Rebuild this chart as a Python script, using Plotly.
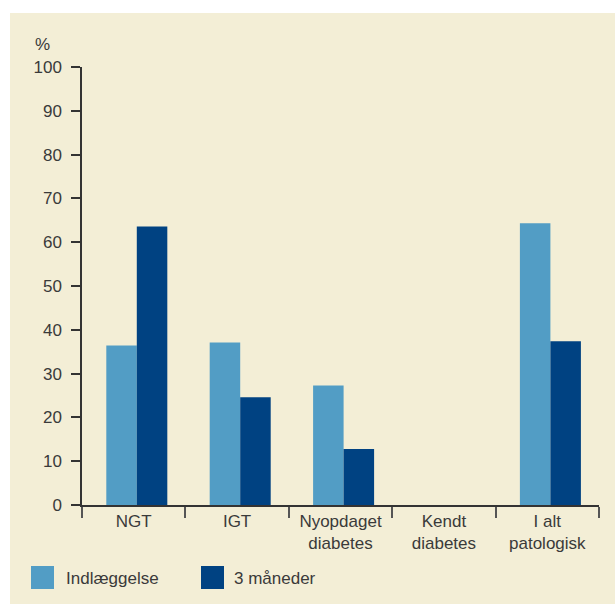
import plotly.graph_objects as go

categories = ["NGT", "IGT", "Nyopdaget<br>diabetes", "Kendt<br>diabetes", "I alt<br>patologisk"]
indlaeggelse = [36.4, 37.1, 27.3, 0, 64.3]
tre_maaneder = [63.6, 24.6, 12.8, 0, 37.4]
series_names = ["Indlæggelse", "3 måneder"]
y_ticks = list(range(0, 101, 10))

LIGHT = "#529dc5"
DARK = "#004282"
BG = "#f3eed6"
TXT = "#3a3a3a"
FONT = "Liberation Sans"

W, H = 615, 604
L, R, T, B = 82, 16, 67, 99
pw, ph = W - L - R, H - T - B

def px_x(p):
    return (p - L) / pw

def px_y(p):
    return (H - B - p) / ph

BW = 0.295
SHIFT = 0.03

fig = go.Figure()
fig.add_trace(go.Bar(x=categories, y=indlaeggelse, name=series_names[0],
                     width=BW, offset=-BW + SHIFT,
                     marker=dict(color=LIGHT, line=dict(width=0))))
fig.add_trace(go.Bar(x=categories, y=tre_maaneder, name=series_names[1],
                     width=BW, offset=SHIFT,
                     marker=dict(color=DARK, line=dict(width=0))))

shapes = [
    dict(type="rect", xref="paper", yref="paper", layer="below",
         x0=px_x(10), x1=px_x(W + 5), y0=px_y(13), y1=px_y(H + 5),
         fillcolor=BG, line=dict(width=0)),
    dict(type="rect", xref="paper", yref="paper",
         x0=px_x(31), x1=px_x(54), y0=px_y(566), y1=px_y(589),
         fillcolor=LIGHT, line=dict(width=0)),
    dict(type="rect", xref="paper", yref="paper",
         x0=px_x(201), x1=px_x(224), y0=px_y(566), y1=px_y(589),
         fillcolor=DARK, line=dict(width=0)),
]
annotations = [
    dict(text="%", xref="paper", yref="paper", x=px_x(33), y=px_y(44),
         xanchor="left", yanchor="middle", showarrow=False,
         font=dict(size=17, color=TXT, family=FONT)),
    dict(text=series_names[0], xref="paper", yref="paper", x=px_x(64), y=px_y(578),
         xanchor="left", yanchor="middle", showarrow=False,
         font=dict(size=17, color=TXT, family=FONT)),
    dict(text=series_names[1], xref="paper", yref="paper", x=px_x(232), y=px_y(578),
         xanchor="left", yanchor="middle", showarrow=False,
         font=dict(size=17, color=TXT, family=FONT)),
]

fig.update_layout(
    width=W, height=H,
    margin=dict(l=L, r=R, t=T, b=B),
    paper_bgcolor="white",
    plot_bgcolor="rgba(0,0,0,0)",
    barmode="group",
    bargap=0.41,
    bargroupgap=0,
    showlegend=False,
    font=dict(family=FONT, size=17, color=TXT),
    shapes=shapes,
    annotations=annotations,
)
fig.update_yaxes(range=[0, 100], tickvals=y_ticks, showgrid=False, zeroline=False,
                 showline=True, linecolor="#333333", linewidth=1.5,
                 ticks="outside", ticklen=9, tickwidth=1.5, tickcolor="#333333",
                 tickfont=dict(size=17, color=TXT, family=FONT), ticklabelstandoff=6)
fig.update_xaxes(showgrid=False, zeroline=False, showline=True, linecolor="#333333",
                 linewidth=1.5, ticks="outside", tickson="boundaries", ticklen=11,
                 tickwidth=1.5, tickcolor="#555555",
                 tickfont=dict(size=17, color=TXT, family=FONT))

fig.write_html("out.html")
